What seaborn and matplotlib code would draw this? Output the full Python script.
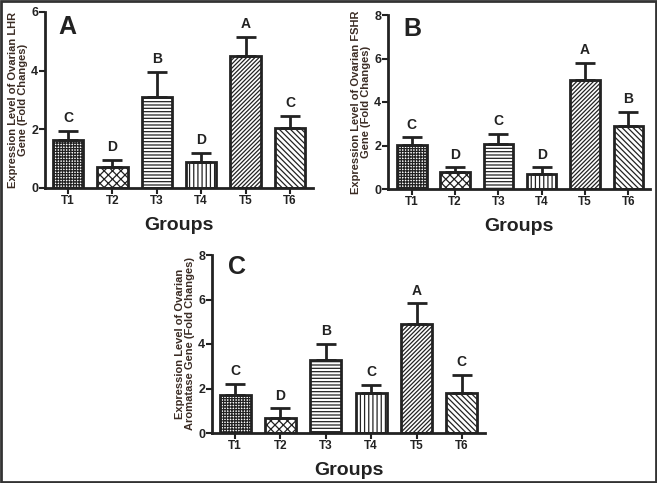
import numpy as np
import pandas as pd
import matplotlib
matplotlib.use('Agg')
import matplotlib.pyplot as plt
import seaborn as sns
from matplotlib.patches import Rectangle

# data
groups = ['T1', 'T2', 'T3', 'T4', 'T5', 'T6']

lhr_mean = [1.64, 0.70, 3.11, 0.87, 4.50, 2.04]
lhr_err = [0.32, 0.26, 0.85, 0.34, 0.65, 0.42]
lhr_letters = ['C', 'D', 'B', 'D', 'A', 'C']

fshr_mean = [2.03, 0.78, 2.08, 0.70, 5.02, 2.91]
fshr_err = [0.34, 0.21, 0.46, 0.29, 0.79, 0.65]
fshr_letters = ['C', 'D', 'C', 'D', 'A', 'B']

arom_mean = [1.72, 0.67, 3.29, 1.79, 4.90, 1.82]
arom_err = [0.48, 0.45, 0.72, 0.38, 0.93, 0.80]
arom_letters = ['C', 'D', 'B', 'C', 'A', 'C']

hatches = ['++++++', 'xxxx', '-----', '||||', '////////', '\\\\\\\\\\\\']

sns.set_style('ticks')
plt.rcParams['font.family'] = ['Liberation Sans', 'DejaVu Sans']
plt.rcParams['font.weight'] = 'bold'
plt.rcParams['hatch.linewidth'] = 0.9
plt.rcParams['hatch.color'] = '#333333'

ink = '#222222'
label_col = '#3b2c24'

fig = plt.figure(figsize=(6.57, 4.83), dpi=100)


def draw_panel(rect, means, errs, letters, ymax, ylabel, tag, xlim, tag_pos):
    ax = fig.add_axes(rect)
    df = pd.DataFrame({'group': groups, 'value': means})
    sns.barplot(data=df, x='group', y='value', color='white', edgecolor=ink,
                linewidth=2, width=0.68, errorbar=None, ax=ax)
    for patch, h in zip(ax.patches, hatches):
        patch.set_hatch(h)
        patch.set_facecolor('white')
    x = np.arange(len(groups))
    ax.errorbar(x, means, yerr=[np.zeros(len(errs)), errs], fmt='none',
                ecolor=ink, elinewidth=2, capsize=7, capthick=2, zorder=3)
    for xi, m, e, lt in zip(x, means, errs, letters):
        ax.annotate(lt, (xi, m + e), xytext=(0, 4), textcoords='offset points',
                    ha='center', va='bottom', fontsize=10, fontweight='bold', color=ink)
    ax.set_ylim(0, ymax)
    ax.set_yticks(np.arange(0, ymax + 1, 2))
    ax.set_xlim(*xlim)
    sns.despine(ax=ax)
    for s in ['left', 'bottom']:
        ax.spines[s].set_linewidth(2)
        ax.spines[s].set_color(ink)
    ax.tick_params(axis='both', width=1.5, length=4, color=ink, labelcolor=ink, pad=1)
    ax.tick_params(axis='x', labelsize=8.5)
    ax.tick_params(axis='y', labelsize=9)
    for lab in ax.get_xticklabels() + ax.get_yticklabels():
        lab.set_fontweight('bold')
    ax.set_xlabel('Groups', fontsize=14, fontweight='bold', color=ink, labelpad=7)
    ax.set_ylabel(ylabel, fontsize=8, fontweight='bold', color=label_col, labelpad=2,
                  linespacing=1.05)
    ax.text(tag_pos[0], tag_pos[1], tag, transform=ax.transAxes, fontsize=18,
            fontweight='bold', color=ink, ha='left', va='top')
    return ax


W, H = 657, 483


def rect_px(left, right, top, bottom):
    return [left / W, (H - bottom) / H, (right - left) / W, (bottom - top) / H]


draw_panel(rect_px(45, 313, 12, 188), lhr_mean, lhr_err, lhr_letters, 6,
           'Expression Level of Ovarian LHR\nGene (Fold Changes)', 'A',
           (-0.52, 5.52), (0.05, 0.985))
draw_panel(rect_px(388, 650, 15, 189), fshr_mean, fshr_err, fshr_letters, 8,
           'Expression Level of Ovarian FSHR\nGene (Fold Changes)', 'B',
           (-0.55, 5.5), (0.057, 0.99))
draw_panel(rect_px(212, 485, 255, 433), arom_mean, arom_err, arom_letters, 8,
           'Expression Level of Ovarian\nAromatase Gene (Fold Changes)', 'C',
           (-0.51, 5.51), (0.059, 1.0))

fig.patches.append(Rectangle((0.0015, 0.002), 0.997, 0.995, transform=fig.transFigure,
                             fill=False, edgecolor='#333333', linewidth=2))

fig.savefig('out.png', dpi=100)
